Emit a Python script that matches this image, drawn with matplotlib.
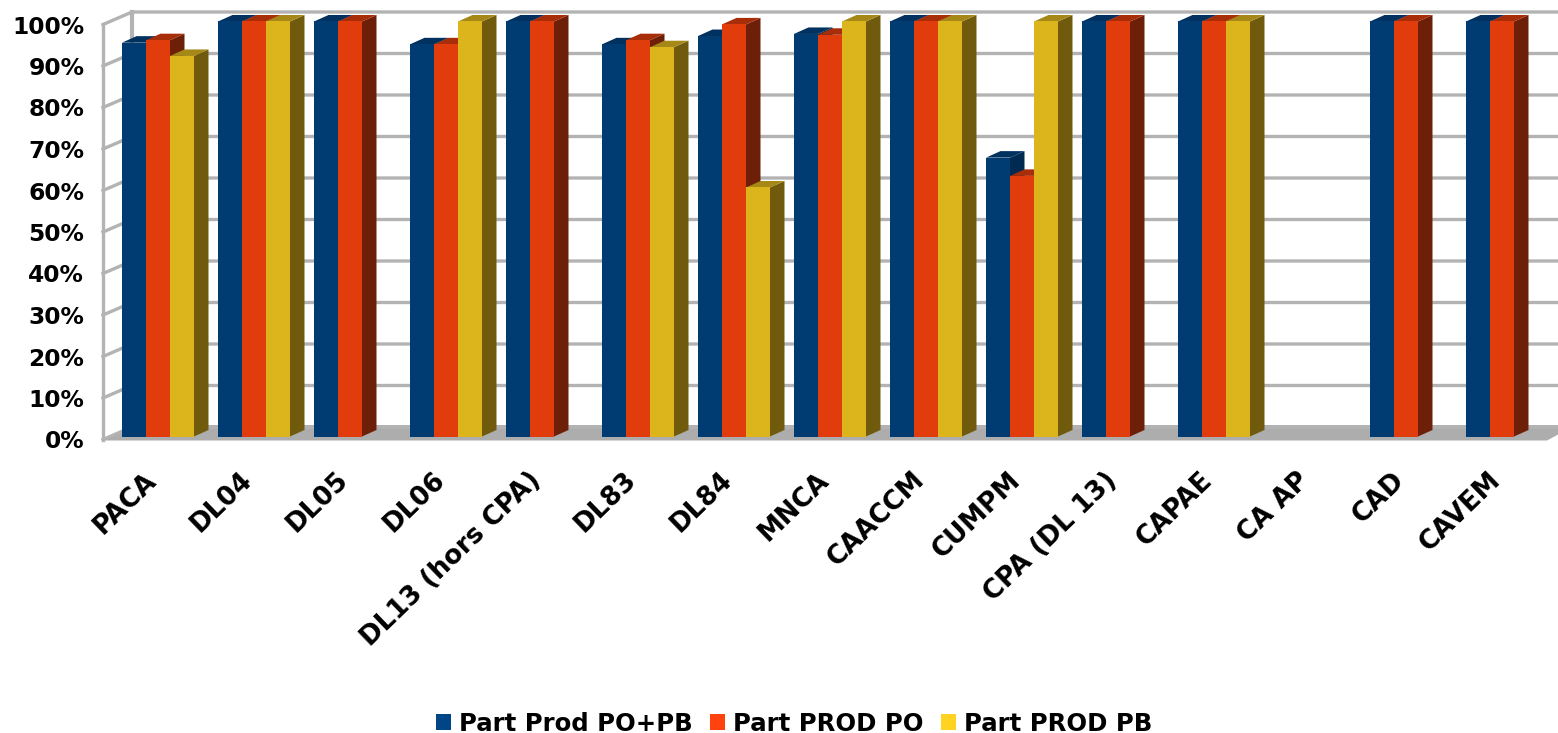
import numpy as np
import matplotlib
matplotlib.use('Agg')
import matplotlib.pyplot as plt
from matplotlib.patches import Polygon, Patch
from matplotlib.transforms import ScaledTranslation

categories = ['PACA', 'DL04', 'DL05', 'DL06', 'DL13 (hors CPA)', 'DL83', 'DL84', 'MNCA',
              'CAACCM', 'CUMPM', 'CPA (DL 13)', 'CAPAE', 'CA AP', 'CAD', 'CAVEM']
nan = float('nan')
po_pb = [94.9, 100, 100, 94.5, 100, 94.5, 96.5, 97.0, 100, 67.2, 100, 100, nan, 100, 100]
po = [95.5, 100, 100, 94.5, 100, 95.5, 99.3, 96.8, 100, 62.8, 100, 100, nan, 100, 100]
pb = [91.7, 100, nan, 100, nan, 93.8, 60.0, 100, 100, 100, nan, 100, nan, nan, nan]
series_names = ['Part Prod PO+PB', 'Part PROD PO', 'Part PROD PB']
y_ticks = [0, 10, 20, 30, 40, 50, 60, 70, 80, 90, 100]

# couleurs : legende, face, cote, dessus
legend_colors = ['#004586', '#ff420e', '#ffd320']
front_colors = ['#003b72', '#e03c0c', '#dcb51c']
side_colors = ['#002a52', '#6e1f07', '#6f5a0e']
top_colors = ['#00315f', '#a82d09', '#a58815']
grid_color = '#b3b3b3'

W, H = 1558, 733
fig = plt.figure(figsize=(W / 100, H / 100), dpi=100)
plt.rcParams['font.family'] = 'DejaVu Sans'

# plan avant du graphique, en pixels de l'image
left, right, y0, y100 = 103, 1547, 436.5, 21.5
ax = fig.add_axes([left / W, 1 - y0 / H, (right - left) / W, (y0 - y100) / H])
ax.patch.set_alpha(0)
px_x = 96.0
px_y = (y0 - y100) / 100
ax.set_xlim((left - 158) / px_x, (right - 158) / px_x)
ax.set_ylim(0, 100)
for s in ax.spines.values():
    s.set_visible(False)

# profondeur du mur et des barres, en unites de donnees
wall_dx, wall_dy = 29 / px_x, 12.5 / px_y
bar_dx, bar_dy = 14.5 / px_x, 6.5 / px_y
bar_w = 24 / px_x
xa, xb = ax.get_xlim()
low = -3.0 / px_y

# sol
ax.add_patch(Polygon([(xa, low - 1 / px_y), (xb, low - 1 / px_y), (xb + wall_dx, low + wall_dy + 2 / px_y),
                      (xa + wall_dx, low + wall_dy + 2 / px_y)],
                     closed=True, fc='#adadad', ec='none', clip_on=False, zorder=1))

# grille du mur du fond et du mur gauche
for t in y_ticks:
    yf = t + low
    ax.plot([xa, xa + wall_dx, xb + wall_dx], [yf, yf + wall_dy, yf + wall_dy], color=grid_color, lw=2.4,
            clip_on=False, zorder=2, solid_capstyle='projecting', solid_joinstyle='miter')
ax.plot([xa, xa], [low, 100 + low], color=grid_color, lw=2.4, clip_on=False, zorder=2)
ax.plot([xa + wall_dx, xa + wall_dx], [low + wall_dy, 100 + low + wall_dy], color=grid_color, lw=3,
        clip_on=False, zorder=2)

# barres 3D, de gauche a droite pour que chaque barre couvre le cote de la precedente
z = 3
x = np.arange(len(categories))
for i in range(len(categories)):
    for j, vals in enumerate([po_pb, po, pb]):
        v = vals[i]
        if np.isnan(v):
            continue
        xl = i + (j - 1.5) * bar_w
        xr = xl + bar_w
        ax.add_patch(Polygon([(xr, 0), (xr + bar_dx, bar_dy), (xr + bar_dx, v + bar_dy), (xr, v)],
                             closed=True, fc=side_colors[j], ec='none', clip_on=False, zorder=z))
        ax.add_patch(Polygon([(xl, v), (xr, v), (xr + bar_dx, v + bar_dy), (xl + bar_dx, v + bar_dy)],
                             closed=True, fc=top_colors[j], ec='none', clip_on=False, zorder=z))
        ax.bar(xl, v, width=bar_w, align='edge', color=front_colors[j], clip_on=False, zorder=z + 0.5)
        z += 1

# axes
ax.set_yticks(y_ticks)
ax.set_yticklabels([str(t) + '%' for t in y_ticks], fontsize=16.8, fontweight='bold')
ax.tick_params(axis='y', length=0, pad=13.5)
ax.set_xticks(x)
ax.set_xticklabels(categories, fontsize=18.8, fontweight='bold', rotation=44, ha='right',
                   rotation_mode='anchor')
ax.tick_params(axis='x', length=0, pad=22)
down = ScaledTranslation(0, -3 / 100, fig.dpi_scale_trans)
for lab in ax.get_yticklabels():
    lab.set_transform(lab.get_transform() + down)
shift = ScaledTranslation(-14 / 100, 0, fig.dpi_scale_trans)
for lab in ax.get_xticklabels():
    lab.set_transform(lab.get_transform() + shift)

# legende
handles = [Patch(facecolor=c, edgecolor='none') for c in legend_colors]
leg = fig.legend(handles, series_names, loc='center', bbox_to_anchor=(794 / W, 1 - 724 / H), ncol=3, frameon=False,
                 prop={'size': 17.6, 'weight': 'bold'}, handlelength=0.62, handleheight=0.62, handletextpad=0.33,
                 columnspacing=0.7, borderpad=0)

fig.savefig('out.png', dpi=100)
